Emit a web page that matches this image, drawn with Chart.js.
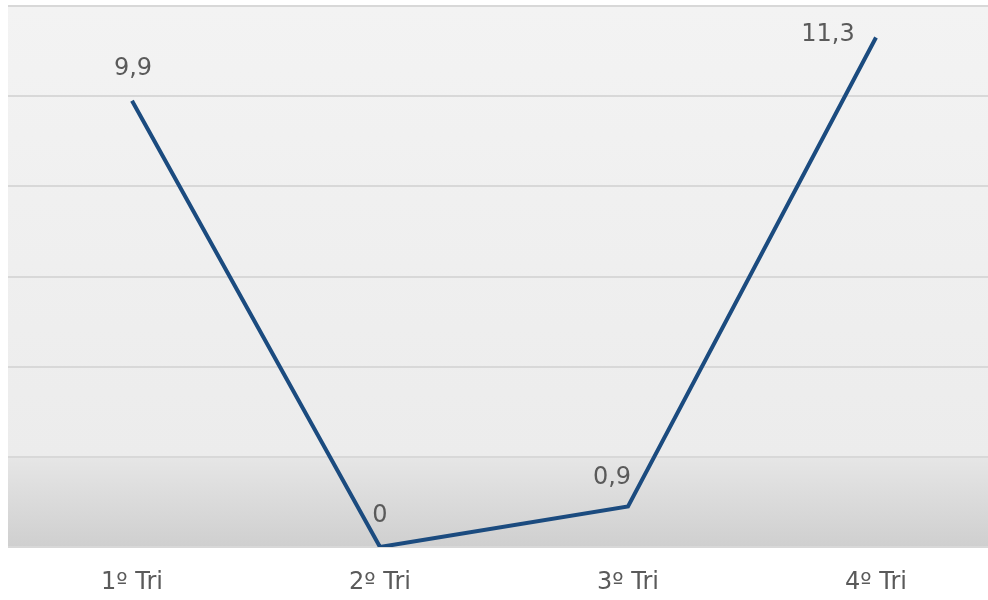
<!DOCTYPE html>
<html>
<head>
<meta charset="utf-8">
<script src="https://cdn.jsdelivr.net/npm/chart.js@4/dist/chart.umd.min.js"></script>
<style>
  html, body { margin: 0; padding: 0; background: #ffffff; overflow: hidden; }
  #wrap { position: relative; width: 1000px; height: 600px; }
</style>
</head>
<body>
<div id="wrap"><canvas id="chart"></canvas></div>
<script>
const quarters = ["1º Tri", "2º Tri", "3º Tri", "4º Tri"];
const values = [9.9, 0, 0.9, 11.3];
const valueLabels = ["9,9", "0", "0,9", "11,3"];

// label offsets from each point, px
const labelShift = [[1, -32], [0, -31], [-16, -29], [-48, -3]];

const plotBackground = {
  id: "plotBackground",
  beforeDraw(chart) {
    const { ctx, chartArea: a, scales } = chart;
    const yBand = scales.y.getPixelForValue(2);
    ctx.save();
    const top = ctx.createLinearGradient(0, a.top, 0, yBand);
    top.addColorStop(0, "#f3f3f3");
    top.addColorStop(1, "#ececec");
    ctx.fillStyle = top;
    ctx.fillRect(a.left, a.top, a.right - a.left, yBand - a.top);
    const band = ctx.createLinearGradient(0, yBand, 0, a.bottom);
    band.addColorStop(0, "#e6e6e6");
    band.addColorStop(1, "#cfcfcf");
    ctx.fillStyle = band;
    ctx.fillRect(a.left, yBand, a.right - a.left, a.bottom - yBand);
    ctx.restore();
  },
};

const valueText = {
  id: "valueText",
  afterDatasetsDraw(chart) {
    const { ctx } = chart;
    const meta = chart.getDatasetMeta(0);
    ctx.save();
    ctx.font = "24px 'DejaVu Sans'";
    ctx.fillStyle = "#5a5a5a";
    ctx.textAlign = "center";
    ctx.textBaseline = "middle";
    meta.data.forEach((pt, i) => {
      const [dx, dy] = labelShift[i];
      ctx.fillText(valueLabels[i], pt.x + dx, pt.y + dy);
    });
    ctx.restore();
  },
};

new Chart(document.getElementById("chart"), {
  type: "line",
  data: {
    labels: quarters,
    datasets: [
      {
        data: values,
        borderColor: "#1b4b7f",
        borderWidth: 4,
        pointRadius: 0,
        tension: 0,
        fill: false,
      },
    ],
  },
  options: {
    responsive: true,
    maintainAspectRatio: false,
    animation: false,
    layout: { padding: { left: 8, right: 0, top: 6, bottom: 3 } },
    plugins: { legend: { display: false }, tooltip: { enabled: false } },
    scales: {
      x: {
        offset: true,
        grid: { display: false, drawTicks: false },
        border: { display: false },
        ticks: { color: "#5a5a5a", font: { family: "'DejaVu Sans'", size: 24 }, padding: 21, maxRotation: 0 },
        afterFit(scale) {
          scale.height = 50;
        },
      },
      y: {
        min: 0,
        max: 12,
        ticks: { display: false, stepSize: 2 },
        border: { display: false },
        grid: { color: "#d8d8d8", lineWidth: 2, drawTicks: false },
      },
    },
  },
  plugins: [plotBackground, valueText],
});
</script>
</body>
</html>
